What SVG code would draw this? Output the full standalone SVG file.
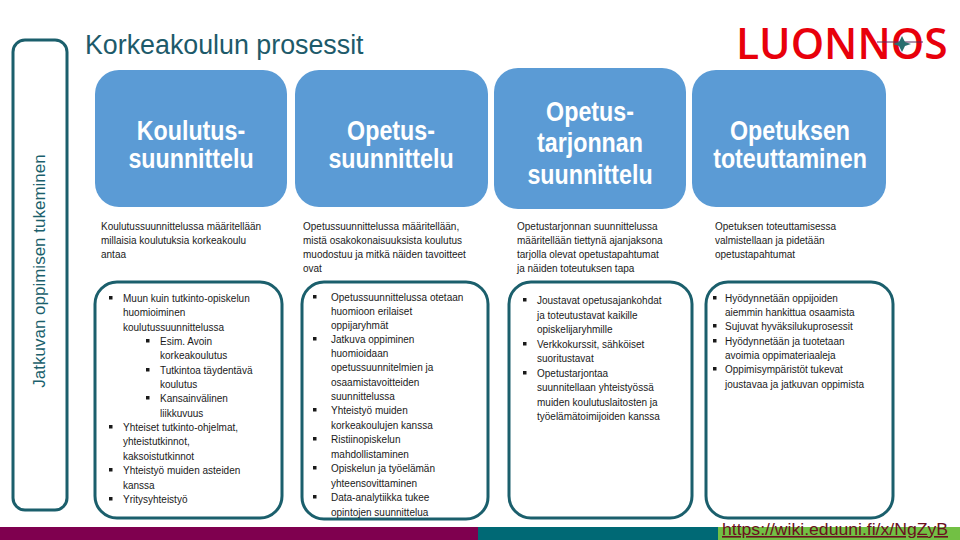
<svg xmlns="http://www.w3.org/2000/svg" width="960" height="540" viewBox="0 0 960 540">
<style>
.bg{fill:#ffffff}
.frame{fill:#ffffff;stroke:#1b5f6c;stroke-width:3}
.blue{fill:#5b9bd5}
.bt{font-family:"Liberation Sans",Arial,sans-serif;font-weight:bold;font-size:25px;fill:#ffffff;text-anchor:middle}
.d{font-family:"Liberation Sans",Arial,sans-serif;font-size:10px;fill:#1a1a1a}
.b{fill:#1a1a1a}
.title{font-family:"Liberation Sans",Arial,sans-serif;font-size:26.8px;fill:#1d5a6a}
.vt{font-family:"Liberation Sans",Arial,sans-serif;font-size:17px;fill:#1b5f6c;text-anchor:middle}
</style>
<rect class="bg" x="0" y="0" width="960" height="540"/>

<g id="side-label">
  <rect class="frame" x="13" y="40" width="54" height="470" rx="12"/>
  <text class="vt" transform="translate(45,271) rotate(-90)">Jatkuvan oppimisen tukeminen</text>
</g>

<g id="title">
  <text class="title" x="85" y="54">Korkeakoulun prosessit</text>
</g>

<g id="draft-mark">
  <text x="736" y="59" font-family="'Open Sans','Liberation Sans',sans-serif" font-weight="600" font-size="42.5" fill="#e8000b">LUONNOS</text>
  <line x1="877" y1="42" x2="923" y2="42" stroke="#5a2a5a" stroke-width="1"/>
  <path d="M902 36 L905 42 L911 44 L905 46 L902 52 L899 46 L893 44 L899 42 Z" fill="#2a6f6f"/>
</g>

<g id="box-koulutussuunnittelu">
  <rect class="blue" x="95" y="70" width="192" height="137" rx="24"/>
  <text class="bt" transform="translate(191,140) scale(0.93,1.13)">Koulutus-</text>
  <text class="bt" transform="translate(191,168) scale(0.93,1.13)">suunnittelu</text>
</g>
<g id="box-opetussuunnittelu">
  <rect class="blue" x="295" y="70" width="193" height="137" rx="24"/>
  <text class="bt" transform="translate(391,140) scale(0.93,1.13)">Opetus-</text>
  <text class="bt" transform="translate(391,168) scale(0.93,1.13)">suunnittelu</text>
</g>
<g id="box-opetustarjonta">
  <rect class="blue" x="494" y="68" width="192" height="141" rx="24"/>
  <text class="bt" transform="translate(590,121) scale(0.93,1.13)">Opetus-</text>
  <text class="bt" transform="translate(590,152) scale(0.93,1.13)">tarjonnan</text>
  <text class="bt" transform="translate(590,184) scale(0.93,1.13)">suunnittelu</text>
</g>
<g id="box-toteuttaminen">
  <rect class="blue" x="692" y="70" width="194" height="137" rx="24"/>
  <text class="bt" transform="translate(790,140) scale(0.93,1.13)">Opetuksen</text>
  <text class="bt" transform="translate(790,168) scale(0.93,1.13)">toteuttaminen</text>
</g>

<g id="desc-1">
  <text class="d" x="101" y="230">Koulutussuunnittelussa määritellään</text>
  <text class="d" x="101" y="244">millaisia koulutuksia korkeakoulu</text>
  <text class="d" x="101" y="258">antaa</text>
</g>
<g id="desc-2">
  <text class="d" x="303" y="230">Opetussuunnittelussa määritellään,</text>
  <text class="d" x="303" y="244">mistä osakokonaisuuksista koulutus</text>
  <text class="d" x="303" y="258">muodostuu ja mitkä näiden tavoitteet</text>
  <text class="d" x="303" y="272">ovat</text>
</g>
<g id="desc-3">
  <text class="d" x="517" y="230">Opetustarjonnan suunnittelussa</text>
  <text class="d" x="517" y="244">määritellään tiettynä ajanjaksona</text>
  <text class="d" x="517" y="258">tarjolla olevat opetustapahtumat</text>
  <text class="d" x="517" y="272">ja näiden toteutuksen tapa</text>
</g>
<g id="desc-4">
  <text class="d" x="715" y="230">Opetuksen toteuttamisessa</text>
  <text class="d" x="715" y="244">valmistellaan ja pidetään</text>
  <text class="d" x="715" y="258">opetustapahtumat</text>
</g>

<g id="list-1">
  <rect class="frame" x="95" y="282" width="187" height="236" rx="22"/>
  <rect class="b" x="109" y="296" width="3.5" height="3.5"/>
  <text class="d" x="123" y="302">Muun kuin tutkinto-opiskelun</text>
  <text class="d" x="123" y="316">huomioiminen</text>
  <text class="d" x="123" y="331">koulutussuunnittelussa</text>
  <rect class="b" x="146" y="339" width="3.5" height="3.5"/>
  <text class="d" x="160" y="345">Esim. Avoin</text>
  <text class="d" x="160" y="359">korkeakoulutus</text>
  <rect class="b" x="146" y="368" width="3.5" height="3.5"/>
  <text class="d" x="160" y="374">Tutkintoa täydentävä</text>
  <text class="d" x="160" y="388">koulutus</text>
  <rect class="b" x="146" y="396" width="3.5" height="3.5"/>
  <text class="d" x="160" y="402">Kansainvälinen</text>
  <text class="d" x="160" y="417">liikkuvuus</text>
  <rect class="b" x="109" y="425" width="3.5" height="3.5"/>
  <text class="d" x="123" y="431">Yhteiset tutkinto-ohjelmat,</text>
  <text class="d" x="123" y="445">yhteistutkinnot,</text>
  <text class="d" x="123" y="460">kaksoistutkinnot</text>
  <rect class="b" x="109" y="468" width="3.5" height="3.5"/>
  <text class="d" x="123" y="474">Yhteistyö muiden asteiden</text>
  <text class="d" x="123" y="489">kanssa</text>
  <rect class="b" x="109" y="497" width="3.5" height="3.5"/>
  <text class="d" x="123" y="503">Yritysyhteistyö</text>
</g>

<g id="list-2">
  <rect class="frame" x="302" y="282" width="186" height="237" rx="22"/>
  <rect class="b" x="313" y="295" width="3.5" height="3.5"/>
  <text class="d" x="331" y="301">Opetussuunnittelussa otetaan</text>
  <text class="d" x="331" y="315">huomioon erilaiset</text>
  <text class="d" x="331" y="329">oppijaryhmät</text>
  <rect class="b" x="313" y="337" width="3.5" height="3.5"/>
  <text class="d" x="331" y="343">Jatkuva oppiminen</text>
  <text class="d" x="331" y="357">huomioidaan</text>
  <text class="d" x="331" y="371">opetussuunnitelmien ja</text>
  <text class="d" x="331" y="386">osaamistavoitteiden</text>
  <text class="d" x="331" y="400">suunnittelussa</text>
  <rect class="b" x="313" y="408" width="3.5" height="3.5"/>
  <text class="d" x="331" y="414">Yhteistyö muiden</text>
  <text class="d" x="331" y="429">korkeakoulujen kanssa</text>
  <rect class="b" x="313" y="437" width="3.5" height="3.5"/>
  <text class="d" x="331" y="443">Ristiinopiskelun</text>
  <text class="d" x="331" y="458">mahdollistaminen</text>
  <rect class="b" x="313" y="466" width="3.5" height="3.5"/>
  <text class="d" x="331" y="472">Opiskelun ja työelämän</text>
  <text class="d" x="331" y="487">yhteensovittaminen</text>
  <rect class="b" x="313" y="495" width="3.5" height="3.5"/>
  <text class="d" x="331" y="501">Data-analytiikka tukee</text>
  <text class="d" x="331" y="516">opintojen suunnittelua</text>
</g>

<g id="list-3">
  <rect class="frame" x="509" y="282" width="183" height="236" rx="22"/>
  <rect class="b" x="523" y="298" width="3.5" height="3.5"/>
  <text class="d" x="537" y="304">Joustavat opetusajankohdat</text>
  <text class="d" x="537" y="319">ja toteutustavat kaikille</text>
  <text class="d" x="537" y="333">opiskelijaryhmille</text>
  <rect class="b" x="523" y="342" width="3.5" height="3.5"/>
  <text class="d" x="537" y="348">Verkkokurssit, sähköiset</text>
  <text class="d" x="537" y="362">suoritustavat</text>
  <rect class="b" x="523" y="371" width="3.5" height="3.5"/>
  <text class="d" x="537" y="377">Opetustarjontaa</text>
  <text class="d" x="537" y="391">suunnitellaan yhteistyössä</text>
  <text class="d" x="537" y="406">muiden koulutuslaitosten ja</text>
  <text class="d" x="537" y="420">työelämätoimijoiden kanssa</text>
</g>

<g id="list-4">
  <rect class="frame" x="706" y="282" width="187" height="236" rx="22"/>
  <rect class="b" x="713" y="296" width="3.5" height="3.5"/>
  <text class="d" x="725" y="302">Hyödynnetään oppijoiden</text>
  <text class="d" x="725" y="316">aiemmin hankittua osaamista</text>
  <rect class="b" x="713" y="324" width="3.5" height="3.5"/>
  <text class="d" x="725" y="330">Sujuvat hyväksilukuprosessit</text>
  <rect class="b" x="713" y="339" width="3.5" height="3.5"/>
  <text class="d" x="725" y="345">Hyödynnetään ja tuotetaan</text>
  <text class="d" x="725" y="359">avoimia oppimateriaaleja</text>
  <rect class="b" x="713" y="367" width="3.5" height="3.5"/>
  <text class="d" x="725" y="373">Oppimisympäristöt tukevat</text>
  <text class="d" x="725" y="388">joustavaa ja jatkuvan oppimista</text>
</g>

<g id="footer">
  <rect x="0" y="527" width="478" height="13" fill="#7f004f"/>
  <rect x="478" y="527" width="240" height="13" fill="#006975"/>
  <rect x="718" y="527" width="242" height="13" fill="#72c044"/>
  <text x="722" y="535" font-family="'Liberation Sans',Arial,sans-serif" font-size="16" fill="#6b1020" text-decoration="underline" textLength="226" lengthAdjust="spacingAndGlyphs">https://wiki.eduuni.fi/x/NgZyB</text>
</g>
</svg>
